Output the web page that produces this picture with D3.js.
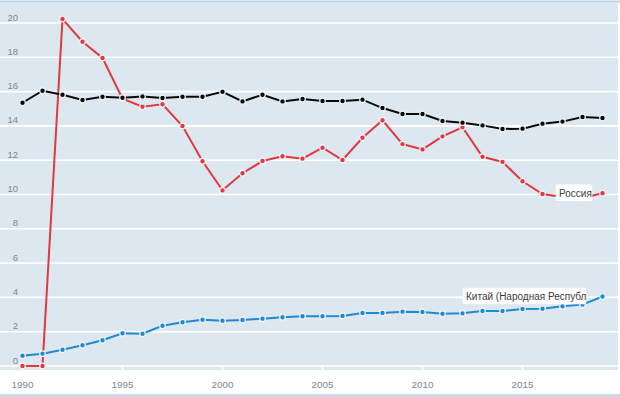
<!DOCTYPE html>
<html>
<head>
<meta charset="utf-8">
<script src="https://cdn.jsdelivr.net/npm/d3@7"></script>
<style>
  html, body { margin: 0; padding: 0; background: #fff; }
  svg { display: block; font-family: "Liberation Sans", Arial, sans-serif; }
</style>
</head>
<body>
<figure id="chart" style="margin:0"></figure>
<script>
const years = d3.range(1990, 2020);
const totalSeries = [15.35, 16.05, 15.82, 15.51, 15.70, 15.64, 15.72, 15.63, 15.70, 15.70,
  15.99, 15.43, 15.82, 15.43, 15.57, 15.45, 15.45, 15.53, 15.04, 14.69,
  14.69, 14.29, 14.19, 14.03, 13.82, 13.84, 14.13, 14.25, 14.52, 14.46];
const russia = [0, 0, 20.23, 18.91, 17.96, 15.59, 15.12, 15.26, 13.99, 11.94,
  10.24, 11.24, 11.95, 12.23, 12.09, 12.73, 12.01, 13.31, 14.33, 12.94,
  12.63, 13.39, 13.92, 12.20, 11.90, 10.77, 10.03, 9.85, 9.80, 10.07];
const china = [0.60, 0.72, 0.95, 1.21, 1.50, 1.91, 1.88, 2.35, 2.55, 2.70,
  2.64, 2.68, 2.76, 2.84, 2.90, 2.90, 2.92, 3.09, 3.09, 3.17,
  3.15, 3.05, 3.07, 3.21, 3.21, 3.32, 3.34, 3.48, 3.58, 4.05];
const yTicks = [0, 2, 4, 6, 8, 10, 12, 14, 16, 18, 20];
const xTicks = [1990, 1995, 2000, 2005, 2010, 2015];

const width = 620, height = 397;

const svg = d3.select("#chart").append("svg")
  .attr("width", width)
  .attr("height", height);

const x = d3.scaleLinear().domain([1990, 2019]).range([22.5, 602.5]);
const y = d3.scaleLinear().domain([0, 20]).range([366, 23]);

// plot background + frame lines
svg.append("rect").attr("x", 0).attr("y", 3).attr("width", 618).attr("height", 367)
  .attr("fill", "#dde7f0");
svg.append("line").attr("x1", 0).attr("x2", width).attr("y1", 1.5).attr("y2", 1.5)
  .attr("stroke", "#b9d0e4").attr("stroke-width", 2);
svg.append("line").attr("x1", 0).attr("x2", width).attr("y1", 395.5).attr("y2", 395.5)
  .attr("stroke", "#c9dbe8").attr("stroke-width", 3);

// gridlines
svg.selectAll(".grid").data(yTicks).enter().append("line")
  .attr("x1", 0).attr("x2", 618)
  .attr("y1", d => y(d)).attr("y2", d => y(d))
  .attr("stroke", "#fff").attr("stroke-width", 1.6);

// y labels
svg.selectAll(".ylab").data(yTicks).enter().append("text")
  .attr("x", 18).attr("y", d => y(d) - 2.5)
  .attr("text-anchor", "end")
  .attr("font-size", 9.5).attr("fill", "#7d8790")
  .text(d => d);

// x ticks + labels
const xAxis = svg.append("g").attr("transform", "translate(0,366)");
xAxis.selectAll("line").data(xTicks).enter().append("line")
  .attr("x1", d => x(d)).attr("x2", d => x(d))
  .attr("y1", 0).attr("y2", 5)
  .attr("stroke", "#fff").attr("stroke-width", 1.5);
xAxis.selectAll("text").data(xTicks).enter().append("text")
  .attr("x", d => x(d)).attr("y", 21.5)
  .attr("text-anchor", "middle")
  .attr("font-size", 9.8).attr("fill", "#7d8790")
  .text(d => d);

const line = d3.line().x((d, i) => x(years[i])).y(d => y(d));

function drawSeries(values, color) {
  svg.append("path").datum(values)
    .attr("d", line)
    .attr("fill", "none")
    .attr("stroke", color)
    .attr("stroke-width", 2);
  svg.append("g").selectAll("circle").data(values).enter().append("circle")
    .attr("cx", (d, i) => x(years[i]))
    .attr("cy", d => y(d))
    .attr("r", 2.8)
    .attr("fill", color)
    .attr("stroke", "#f2f6f9")
    .attr("stroke-width", 1.2);
}

drawSeries(russia, "#e03a40");
drawSeries(totalSeries, "#0a0a0a");
drawSeries(china, "#1f8ad0");

// end labels
function endLabel(name, values, w, gap, id) {
  const last = values[values.length - 1];
  const bx = x(2019) - gap - w, by = y(last) - 9;
  svg.append("clipPath").attr("id", id).append("rect")
    .attr("x", bx).attr("y", by).attr("width", w).attr("height", 17);
  const g = svg.append("g").attr("clip-path", "url(#" + id + ")");
  g.append("rect").attr("x", bx).attr("y", by).attr("width", w).attr("height", 17)
    .attr("rx", 2).attr("fill", "#fff");
  g.append("text").attr("x", bx + 3.5).attr("y", by + 12.5)
    .attr("font-size", 10).attr("fill", "#3c3c3c")
    .text(name);
}

endLabel("Россия", russia, 37, 10, "clipRu");
endLabel("Китай (Народная Республика)", china, 124, 16, "clipCn");
</script>
</body>
</html>
